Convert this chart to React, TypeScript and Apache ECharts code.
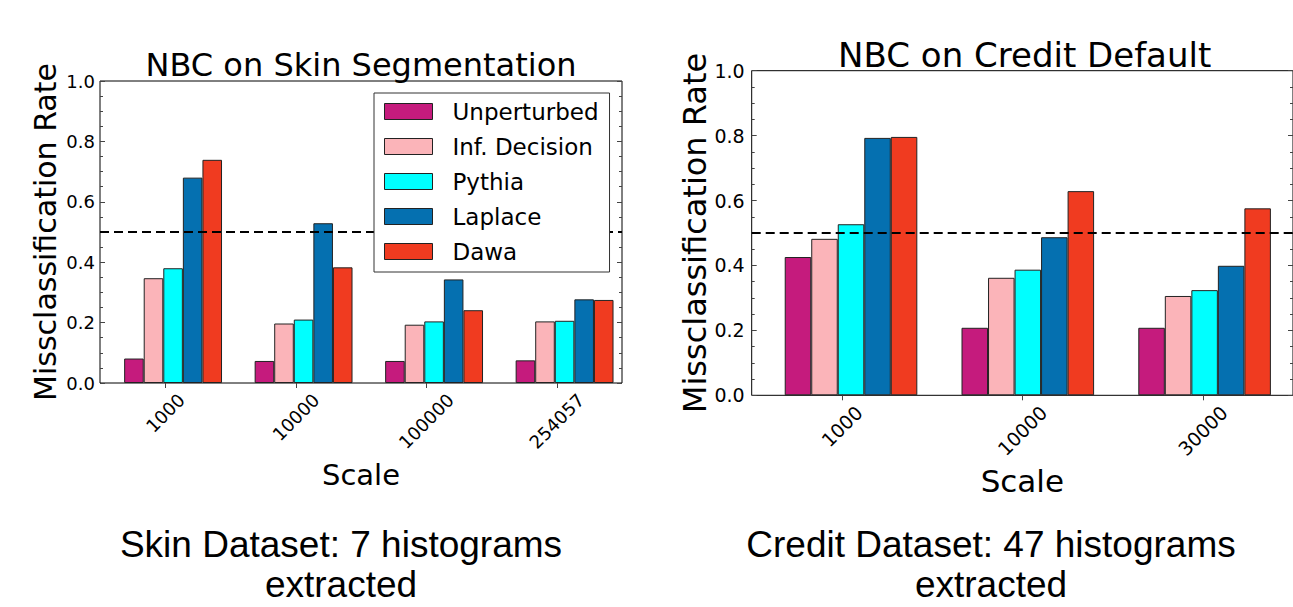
import React, { useEffect, useRef } from 'react';
import * as echarts from 'echarts';

// ---------- data ----------
const seriesNames = ['Unperturbed', 'Inf. Decision', 'Pythia', 'Laplace', 'Dawa'];
const seriesColors = ['#C51B7D', '#FBB4B9', '#00FFFF', '#0570B0', '#F03B20'];

const skinCategories = ['1000', '10000', '100000', '254057'];
const skinUnperturbed = [0.081, 0.073, 0.073, 0.075];
const skinInfDecision = [0.347, 0.197, 0.193, 0.204];
const skinPythia = [0.38, 0.21, 0.204, 0.206];
const skinLaplace = [0.68, 0.529, 0.343, 0.277];
const skinDawa = [0.739, 0.383, 0.241, 0.275];

const creditCategories = ['1000', '10000', '30000'];
const creditUnperturbed = [0.426, 0.208, 0.208];
const creditInfDecision = [0.482, 0.362, 0.306];
const creditPythia = [0.527, 0.387, 0.324];
const creditLaplace = [0.793, 0.487, 0.399];
const creditDawa = [0.796, 0.629, 0.576];

const yMin = 0;
const yMax = 1;
const yInterval = 0.2;
const chanceLevel = 0.5;

const skinTitle = 'NBC on Skin Segmentation';
const creditTitle = 'NBC on Credit Default';
const yName = 'Missclassification Rate';
const xName = 'Scale';
const skinCaption = 'Skin Dataset: 7 histograms\nextracted';
const creditCaption = 'Credit Dataset: 47 histograms\nextracted';

// ---------- styling ----------
const FONT = 'DejaVu Sans';
const TICK_COLOR = '#444';

interface Panel {
  categories: string[];
  values: number[][];
  left: number;
  top: number;
  width: number;
  height: number;
  tickFont: number;
  nameFont: number;
  yNameFont: number;
  yLabelMargin: number;
  xLabelMargin: number;
  xNameGap: number;
  yNameGap: number;
}

const panels: Panel[] = [
  {
    categories: skinCategories,
    values: [skinUnperturbed, skinInfDecision, skinPythia, skinLaplace, skinDawa],
    left: 100,
    top: 81,
    width: 522,
    height: 302,
    tickFont: 18,
    nameFont: 29,
    yNameFont: 30,
    yLabelMargin: 5,
    xLabelMargin: 30,
    xNameGap: 77,
    yNameGap: 40,
  },
  {
    categories: creditCategories,
    values: [creditUnperturbed, creditInfDecision, creditPythia, creditLaplace, creditDawa],
    left: 751.7,
    top: 70.7,
    width: 546,
    height: 324.6,
    tickFont: 19,
    nameFont: 31,
    yNameFont: 32,
    yLabelMargin: 7,
    xLabelMargin: 31,
    xNameGap: 70,
    yNameGap: 40,
  },
];

function buildOption() {
  const grid: any[] = [];
  const xAxis: any[] = [];
  const yAxis: any[] = [];
  const series: any[] = [];

  panels.forEach((p, k) => {
    const band = p.width / p.categories.length;
    const shift = 0.06 * band;
    grid.push({
      left: p.left,
      top: p.top,
      width: p.width,
      height: p.height,
      show: true,
      borderColor: '#000',
      borderWidth: 1,
      backgroundColor: 'transparent',
    });
    grid.push({
      left: p.left + shift,
      top: p.top,
      width: p.width,
      height: p.height,
      show: false,
    });
    const g0 = 2 * k;
    const g1 = 2 * k + 1;
    const tick = {
      show: true,
      inside: true,
      length: 5,
      lineStyle: { color: TICK_COLOR, width: 1 },
    };
    const pad = 0.5 * 0.636 * p.tickFont;
    const richBase = { fontSize: p.tickFont, fontFamily: FONT, color: '#000' };
    xAxis.push({
      type: 'category',
      gridIndex: g0,
      data: p.categories,
      position: 'bottom',
      axisLine: { show: false },
      axisTick: { ...tick, alignWithLabel: true, interval: 0 },
      splitLine: { show: false },
      axisLabel: {
        interval: 0,
        rotate: 45,
        align: 'center',
        verticalAlign: 'middle',
        margin: p.xLabelMargin,
        fontSize: p.tickFont,
        fontFamily: FONT,
        color: '#000',
        formatter: (v: string) => `{d${v.length}|${v}}`,
        rich: {
          d4: { ...richBase },
          d5: { ...richBase, padding: [pad, pad, 0, 0] },
          d6: { ...richBase, padding: [2 * pad, 2 * pad, 0, 0] },
        },
      },
      name: xName,
      nameLocation: 'middle',
      nameGap: p.xNameGap,
      nameTextStyle: { fontSize: p.nameFont, fontFamily: FONT, color: '#000' },
    });
    xAxis.push({
      type: 'category',
      gridIndex: g0,
      data: p.categories,
      position: 'top',
      axisLine: { show: false },
      axisTick: { ...tick, alignWithLabel: true, interval: 0 },
      axisLabel: { show: false },
      splitLine: { show: false },
    });
    xAxis.push({
      type: 'category',
      gridIndex: g1,
      data: p.categories,
      show: false,
    });
    yAxis.push({
      type: 'value',
      gridIndex: g0,
      min: yMin,
      max: yMax,
      interval: yInterval,
      position: 'left',
      axisLine: { show: false },
      axisTick: tick,
      minorTick: { show: true, splitNumber: 4, length: 3, lineStyle: { color: TICK_COLOR, width: 1 } },
      splitLine: { show: false },
      minorSplitLine: { show: false },
      axisLabel: {
        formatter: (v: number) => v.toFixed(1),
        margin: p.yLabelMargin,
        fontSize: p.tickFont,
        fontFamily: FONT,
        color: '#000',
      },
      name: yName,
      nameLocation: 'middle',
      nameRotate: 90,
      nameGap: p.yNameGap,
      nameTextStyle: { fontSize: p.yNameFont, fontFamily: FONT, color: '#000' },
    });
    yAxis.push({
      type: 'value',
      gridIndex: g0,
      min: yMin,
      max: yMax,
      interval: yInterval,
      position: 'right',
      axisLine: { show: false },
      axisTick: tick,
      minorTick: { show: true, splitNumber: 4, length: 3, lineStyle: { color: TICK_COLOR, width: 1 } },
      splitLine: { show: false },
      axisLabel: { show: false },
    });
    yAxis.push({
      type: 'value',
      gridIndex: g1,
      min: yMin,
      max: yMax,
      show: false,
    });

    p.values.forEach((vals, i) => {
      series.push({
        type: 'bar',
        name: seriesNames[i],
        xAxisIndex: 3 * k + 2,
        yAxisIndex: 3 * k + 2,
        data: vals,
        barWidth: '15%',
        barGap: '0%',
        silent: true,
        itemStyle: { color: seriesColors[i], borderColor: '#222', borderWidth: 1 },
      });
    });

    series.push({
      type: 'line',
      name: 'chance' + k,
      xAxisIndex: 3 * k,
      yAxisIndex: 3 * k,
      data: p.categories.map(() => null),
      symbol: 'none',
      silent: true,
      z: 5,
      markLine: {
        silent: true,
        symbol: ['none', 'none'],
        label: { show: false },
        lineStyle: { type: [9, 5], color: '#000', width: 2 },
        data: [{ yAxis: chanceLevel }],
      },
    });
  });

  const captionStyle = {
    fontSize: 37,
    lineHeight: 40,
    fontFamily: 'Liberation Sans',
    fill: '#000',
    align: 'center',
    verticalAlign: 'top',
  };

  const graphic: any[] = [
    {
      type: 'text',
      x: panels[0].left + panels[0].width / 2,
      y: 49.4,
      style: { text: skinTitle, fontSize: 32, fontFamily: FONT, fill: '#000', align: 'center', verticalAlign: 'top' },
    },
    {
      type: 'text',
      x: panels[1].left + panels[1].width / 2,
      y: 37.9,
      style: { text: creditTitle, fontSize: 34, fontFamily: FONT, fill: '#000', align: 'center', verticalAlign: 'top' },
    },
    {
      type: 'text',
      x: 341,
      y: 524,
      style: { ...captionStyle, text: skinCaption },
    },
    {
      type: 'text',
      x: 991,
      y: 524,
      style: { ...captionStyle, text: creditCaption },
    },
  ];

  return {
    animation: false,
    backgroundColor: '#fff',
    grid,
    xAxis,
    yAxis,
    series,
    graphic,
    legend: {
      show: true,
      data: seriesNames,
      orient: 'vertical',
      left: 374,
      top: 93,
      itemWidth: 48,
      itemHeight: 16,
      itemGap: 12,
      padding: [7, 11, 9, 10],
      borderColor: '#333',
      borderWidth: 1,
      backgroundColor: '#fff',
      z: 10,
      selectedMode: false,
      icon: 'rect',
      itemStyle: { borderColor: '#222', borderWidth: 1 },
      textStyle: { fontSize: 23, fontFamily: FONT, color: '#000', padding: [0, 0, 0, 15] },
    },
  };
}

export default function App() {
  const ref = useRef<HTMLDivElement | null>(null);
  useEffect(() => {
    if (!ref.current) return;
    const chart = echarts.init(ref.current, undefined, { renderer: 'svg' });
    chart.setOption(buildOption() as any);
    return () => {
      chart.dispose();
    };
  }, []);
  return (
    <div
      ref={ref}
      style={{ position: 'absolute', left: 0, top: 0, width: 1293, height: 607, background: '#fff' }}
    />
  );
}
